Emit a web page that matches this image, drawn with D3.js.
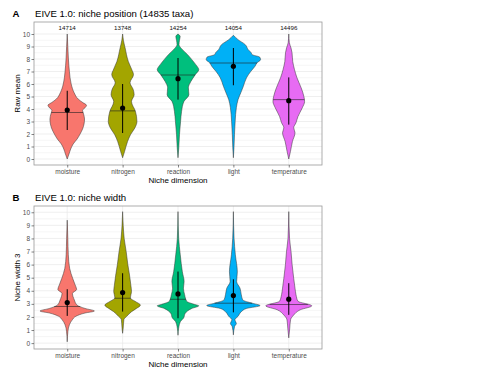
<!DOCTYPE html>
<html>
<head>
<meta charset="utf-8">
<script src="https://cdn.jsdelivr.net/npm/d3@7"></script>
<style>
  body { margin: 0; background: #fff; }
  svg { font-family: 'Liberation Sans', Arial, sans-serif; }
</style>
</head>
<body>
<div class="display"></div>
<script>
const dimensions = ['moisture', 'nitrogen', 'reaction', 'light', 'temperature'];
const taxaCounts = [14714, 13748, 14254, 14054, 14496];
const yTicks = [0, 1, 2, 3, 4, 5, 6, 7, 8, 9, 10];

// panel A: raw mean (niche position)
const positionMean = [3.92, 4.08, 6.43, 7.42, 4.67];
const positionSdLow = [2.32, 2.08, 4.75, 5.9, 2.75];
const positionSdHigh = [5.46, 6.0, 8.08, 8.88, 6.53];
const positionMedian = [3.72, 3.85, 6.72, 7.68, 4.75];
// [value, relative density]
const positionDensity = [
  [[0, 0], [0.4, 1.8], [0.8, 3.5], [1.2, 6], [1.6, 10], [2.0, 13], [2.4, 15.5], [2.8, 17], [3.2, 17.5], [3.6, 16.5], [3.9, 15.5], [4.1, 18], [4.3, 19.5], [4.5, 16], [4.8, 11], [5.3, 7], [6, 4], [7, 2.2], [8, 1.2], [9, 0.6], [10, 0]],
  [[0.1, 0], [0.6, 2], [1.4, 5], [1.95, 8], [2.5, 12.5], [3.0, 14.5], [3.8, 13], [4.6, 9], [5.15, 11.7], [5.6, 10.5], [6.1, 7.5], [6.75, 11], [7.2, 9], [7.8, 5.8], [8.9, 2.5], [9.5, 0.8], [10, 0]],
  [[0.1, 0], [0.9, 0.8], [1.95, 1.5], [3.0, 2.6], [3.8, 3.6], [4.6, 6], [5.15, 11], [5.7, 10.5], [6.2, 13], [6.75, 17.5], [7.15, 21], [7.55, 18], [7.95, 14], [8.35, 9.7], [8.75, 4.5], [9.15, 1], [9.5, 1.5], [9.8, 2.2], [10, 0]],
  [[0.1, 0], [0.9, 0.6], [1.95, 1.1], [3.0, 1.8], [4.1, 3], [4.75, 4.7], [5.3, 7.5], [5.8, 10], [6.5, 13.3], [7.0, 17.5], [7.4, 21.7], [7.7, 24], [7.95, 27.5], [8.15, 26.7], [8.35, 19], [8.5, 18], [8.75, 15], [9.15, 12], [9.55, 4.7], [9.9, 0]],
  [[0, 0], [0.6, 1.7], [1.4, 3.7], [2.1, 6.3], [2.5, 5], [2.9, 7.3], [3.4, 9.3], [4.1, 13.7], [4.6, 16], [5.0, 15.3], [5.7, 12.5], [6.5, 8.3], [7.15, 5.8], [7.8, 4], [8.5, 3.3], [8.9, 2.2], [9.3, 0.6], [10, 0]]
];

// panel B: niche width 3
const widthMean = [3.1, 3.86, 3.76, 3.63, 3.36];
const widthSdLow = [2.08, 2.41, 1.9, 2.35, 2.16];
const widthSdHigh = [4.12, 5.34, 5.47, 4.88, 4.58];
const widthMedian = [2.8, 3.43, 3.35, 3.05, 2.95];
const widthDensity = [
  [[0.1, 0], [0.9, 0.7], [1.4, 2.2], [1.8, 5.3], [2.05, 8.7], [2.3, 18], [2.45, 27.5], [2.65, 18], [2.9, 10], [3.3, 7.2], [3.8, 5.3], [4.1, 9.5], [4.45, 8], [4.95, 5.5], [5.7, 2.5], [6.75, 1.1], [8.0, 0.6], [9.4, 0]],
  [[0.75, 0], [1.15, 0.6], [1.8, 1.3], [2.05, 4.2], [2.4, 9], [2.65, 14], [2.9, 18], [3.2, 12.5], [3.45, 7.8], [3.95, 9], [4.45, 8.3], [5.2, 7], [6.0, 5.3], [7.0, 3.6], [8.0, 1.6], [9.0, 0.6], [10.05, 0]],
  [[0.6, 0], [1.15, 0.7], [1.65, 2.5], [1.9, 5.5], [2.3, 7.5], [2.65, 14], [2.85, 21], [2.95, 17], [3.2, 8.8], [3.7, 6.7], [4.2, 5.5], [4.7, 6.2], [5.45, 4.4], [6.75, 2.3], [8.0, 0.7], [10.05, 0]],
  [[0.63, 0], [1.27, 1.2], [1.5, 3], [1.78, 1.5], [2.05, 4.7], [2.4, 8], [2.65, 13.3], [2.87, 27], [3.05, 19], [3.3, 9.5], [3.7, 8], [4.2, 6.7], [4.7, 3.3], [5.45, 4], [6.75, 2], [8.0, 0.7], [10.05, 0]],
  [[0.4, 0], [1.15, 1], [1.78, 1.8], [2.15, 5], [2.55, 11.7], [2.85, 23.3], [3.2, 9.3], [3.7, 7.3], [4.2, 6.3], [4.95, 5], [6.0, 3.4], [7.0, 2.3], [8.0, 0.8], [10.05, 0]]
];

const config = {
  width: 500,
  height: 375,
  fills: ['#F8766D', '#A3A500', '#00BF7D', '#00B0F6', '#E76BF3'],
  maxDensity: 28,
  panels: [
    {
      tag: 'A', title: 'EIVE 1.0: niche position (14835 taxa)', yDisplay: 'Raw mean',
      top: 22, bottom: 165, domain: [-0.48, 10.96], titleY: 16.5,
      mean: positionMean, sdLow: positionSdLow, sdHigh: positionSdHigh,
      median: positionMedian, density: positionDensity, counts: taxaCounts
    },
    {
      tag: 'B', title: 'EIVE 1.0: niche width', yDisplay: 'Niche width 3',
      top: 206, bottom: 349, domain: [-0.45, 10.48], titleY: 200.5,
      mean: widthMean, sdLow: widthSdLow, sdHigh: widthSdHigh,
      median: widthMedian, density: widthDensity, counts: null
    }
  ],
  left: 34,
  right: 322
};

const svg = d3.select('.display')
  .append('svg')
  .attr('width', config.width)
  .attr('height', config.height);

function drawPanel(p) {
  const x = d3.scalePoint()
    .domain(dimensions)
    .range([config.left, config.right])
    .padding(0.6);

  const y = d3.scaleLinear()
    .domain(p.domain)
    .range([p.bottom, p.top]);

  const w = d3.scaleLinear()
    .domain([0, config.maxDensity])
    .range([0, x.step() / 2]);

  const g = svg.append('g');

  // grid
  const halves = d3.range(0, 10.5, 0.5);
  g.selectAll('.hgrid')
    .data(halves)
    .enter()
    .append('line')
    .attr('x1', config.left).attr('x2', config.right)
    .attr('y1', d => y(d)).attr('y2', d => y(d))
    .attr('stroke', '#e8e8e8')
    .attr('stroke-width', d => d % 1 === 0 ? 0.7 : 0.45);

  g.selectAll('.vgrid')
    .data(dimensions)
    .enter()
    .append('line')
    .attr('x1', d => x(d)).attr('x2', d => x(d))
    .attr('y1', p.top).attr('y2', p.bottom)
    .attr('stroke', '#e8e8e8')
    .attr('stroke-width', 0.7);

  // violins
  dimensions.forEach((dim, i) => {
    const cx = x(dim);
    const dens = p.density[i];
    const area = d3.area()
      .y(d => y(d[0]))
      .x0(d => cx - w(d[1]))
      .x1(d => cx + w(d[1]))
      .curve(d3.curveMonotoneY);

    g.append('path')
      .datum(dens)
      .attr('d', area)
      .attr('fill', config.fills[i])
      .attr('stroke', '#333')
      .attr('stroke-width', 0.5);

    // median line across the violin
    const densAt = d3.scaleLinear()
      .domain(dens.map(d => d[0]))
      .range(dens.map(d => d[1]));
    const half = w(densAt(p.median[i]));
    g.append('line')
      .attr('x1', cx - half).attr('x2', cx + half)
      .attr('y1', y(p.median[i])).attr('y2', y(p.median[i]))
      .attr('stroke', '#222')
      .attr('stroke-width', 0.6);

    // mean +- sd
    g.append('line')
      .attr('x1', cx).attr('x2', cx)
      .attr('y1', y(p.sdLow[i])).attr('y2', y(p.sdHigh[i]))
      .attr('stroke', '#000')
      .attr('stroke-width', 1);

    g.append('circle')
      .attr('cx', cx)
      .attr('cy', y(p.mean[i]))
      .attr('r', 2.6)
      .attr('fill', '#000');

    if (p.counts) {
      g.append('text')
        .attr('x', cx)
        .attr('y', y(10.5) + 2)
        .attr('text-anchor', 'middle')
        .style('font-size', '6.2px')
        .attr('fill', '#111')
        .text(p.counts[i]);
    }
  });

  // border
  g.append('rect')
    .attr('x', config.left).attr('y', p.top)
    .attr('width', config.right - config.left)
    .attr('height', p.bottom - p.top)
    .attr('fill', 'none')
    .attr('stroke', '#9a9a9a')
    .attr('stroke-width', 0.8);

  // axes
  const yAxis = g.append('g')
    .attr('transform', `translate(${config.left}, 0)`)
    .call(d3.axisLeft(y).tickValues(yTicks).tickSize(2.5).tickPadding(1.5));
  const xAxis = g.append('g')
    .attr('transform', `translate(0, ${p.bottom})`)
    .call(d3.axisBottom(x).tickSize(2.5).tickPadding(1.5));
  [yAxis, xAxis].forEach(a => {
    a.select('.domain').remove();
    a.selectAll('line').attr('stroke', '#333').attr('stroke-width', 0.6);
    a.selectAll('text')
      .attr('fill', '#4d4d4d')
      .style('font-size', '6.5px')
      .style('font-family', "'Liberation Sans', Arial, sans-serif");
  });

  // titles
  svg.append('text')
    .attr('x', (config.left + config.right) / 2)
    .attr('y', p.bottom + 18)
    .attr('text-anchor', 'middle')
    .style('font-size', '8px')
    .text('Niche dimension');

  svg.append('text')
    .attr('x', 20)
    .attr('y', (p.top + p.bottom) / 2)
    .attr('transform', `rotate(-90, 20, ${(p.top + p.bottom) / 2})`)
    .attr('text-anchor', 'middle')
    .style('font-size', '8px')
    .text(p.yDisplay);

  svg.append('text')
    .attr('x', 12.5)
    .attr('y', p.titleY)
    .style('font-size', '9.6px')
    .style('font-weight', 'bold')
    .text(p.tag);

  svg.append('text')
    .attr('x', 35)
    .attr('y', p.titleY)
    .style('font-size', '9.6px')
    .text(p.title);
}

config.panels.forEach(drawPanel);
</script>
</body>
</html>
